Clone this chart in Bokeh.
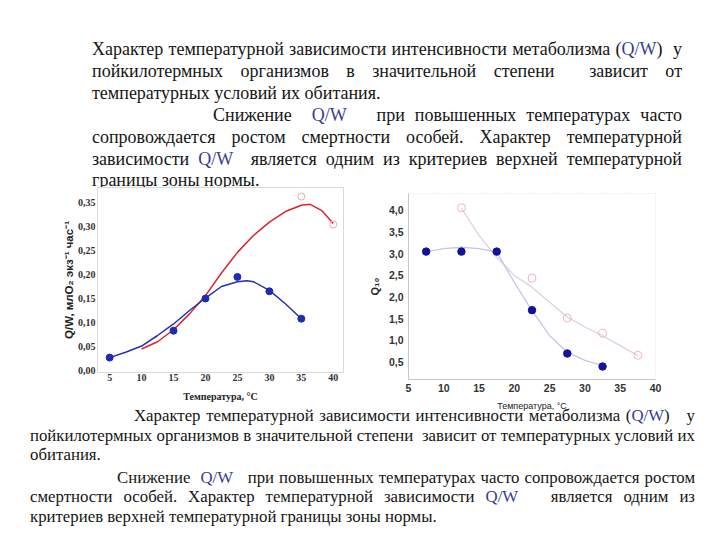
from bokeh.plotting import figure
from bokeh.models import Div, Range1d, FixedTicker, CustomJSTickFormatter, Spacer
from bokeh.layouts import column, row
from bokeh.embed import file_html
from bokeh.resources import INLINE

# ---------------- data ----------------
x_ticks = [5, 10, 15, 20, 25, 30, 35, 40]
x_tick_labels = ["5", "10", "15", "20", "25", "30", "35", "40"]

left_y_ticks = [0.0, 0.05, 0.10, 0.15, 0.20, 0.25, 0.30, 0.35]
left_y_tick_labels = ["0,00", "0,05", "0,10", "0,15", "0,20", "0,25", "0,30", "0,35"]

right_y_ticks = [0.5, 1.0, 1.5, 2.0, 2.5, 3.0, 3.5, 4.0]
right_y_tick_labels = ["0,5", "1,0", "1,5", "2,0", "2,5", "3,0", "3,5", "4,0"]

# left chart: Q/W vs temperature
left_blue_t = [5, 15, 20, 25, 30, 35]
left_blue_qw = [0.027, 0.083, 0.150, 0.195, 0.165, 0.108]
left_blue_curve_t = [5, 7.5, 10, 12.5, 15, 17.5, 20, 22.5, 25, 26.5, 27.5, 30, 32.5, 35]
left_blue_curve_qw = [0.027, 0.038, 0.051, 0.073, 0.097, 0.125, 0.151, 0.175, 0.185, 0.187,
                      0.185, 0.167, 0.139, 0.108]
left_red_t = [35, 40]
left_red_qw = [0.362, 0.304]
left_red_curve_t = [10, 12.5, 15, 17.5, 20, 22.5, 25, 27.5, 30, 32.5, 35, 36.4, 38.2, 40]
left_red_curve_qw = [0.045, 0.060, 0.085, 0.118, 0.156, 0.203, 0.246, 0.281, 0.309, 0.331,
                     0.344, 0.346, 0.333, 0.306]

# right chart: Q10 vs temperature
right_blue_t = [7.5, 12.5, 17.5, 22.5, 27.5, 32.5]
right_blue_q10 = [3.05, 3.05, 3.05, 1.70, 0.70, 0.40]
right_blue_curve_t = [7.5, 10, 12.5, 15, 17.5, 20, 22.5, 25, 27.5, 30, 32.5]
right_blue_curve_q10 = [3.05, 3.12, 3.15, 3.12, 3.04, 2.34, 1.69, 1.11, 0.73, 0.54, 0.42]
right_pink_t = [12.5, 22.5, 27.5, 32.5, 37.5]
right_pink_q10 = [4.06, 2.44, 1.52, 1.17, 0.66]
right_pink_curve_t = [12.5, 15, 17.5, 20, 22.5, 25, 27.5, 30, 32.5, 35, 37.5]
right_pink_curve_q10 = [4.05, 3.42, 2.92, 2.50, 2.23, 1.88, 1.54, 1.31, 1.11, 0.88, 0.65]

QW = '<span style="color:#3b3b94">Q/W</span>'

top_lines = [
    ("justify", 0, "Характер температурной зависимости интенсивности метаболизма (" + QW + ") &nbsp;у", 0),
    ("justify", 0, "пойкилотермных организмов в значительной степени &nbsp;зависит от", 0),
    ("left", 0, "температурных условий их обитания.", 0),
    ("justify", 121, "Снижение &nbsp;" + QW + " &nbsp;&nbsp;при повышенных температурах часто", 0),
    ("justify", 0, "сопровождается ростом смертности особей. Характер температурной", 0),
    ("justify", 0, "зависимости " + QW + " &nbsp;является одним из критериев верхней температурной", 0),
    ("left", 0, "границы зоны нормы.", 0),
]

bottom_lines = [
    ("justify", 104, "Характер температурной зависимости интенсивности метаболизма (" + QW + ") &nbsp;&nbsp;у", 0),
    ("justify", 0, "пойкилотермных организмов в значительной степени &nbsp;зависит от температурных условий их", 0),
    ("left", 0, "обитания.", 0),
    ("justify", 87, "Снижение &nbsp;" + QW + " &nbsp;&nbsp;при повышенных температурах часто сопровождается ростом", 3),
    ("justify", 0, "смертности особей. Характер температурной зависимости " + QW + " &nbsp;&nbsp;является одним из", 0),
    ("left", 0, "критериев верхней температурной границы зоны нормы.", 0),
]


def line_html(align, indent, txt, extra_top=0):
    return (f'<div style="text-align:{align};text-align-last:{align};white-space:nowrap;'
            f'padding-left:{indent}px;margin-top:{extra_top}px;">{txt}</div>')


SERIF = "font-family:&quot;Liberation Serif&quot;,&quot;Times New Roman&quot;,serif;"

top_html = (f'<div style="{SERIF}font-size:18px;line-height:21.9px;box-sizing:border-box;'
            'color:#151515;padding:39px 22px 0 92px;width:704px;">'
            + "".join(line_html(a, i, t, e) for a, i, t, e in top_lines) + '</div>')

bottom_html = (f'<div style="{SERIF}font-size:16.8px;line-height:19.6px;box-sizing:border-box;'
               'color:#151515;padding:0 9px 0 30px;margin-top:-7px;width:704px;">'
               + "".join(line_html(a, i, t, e) for a, i, t, e in bottom_lines) + '</div>')

top_div = Div(text=top_html, width=704, height=174, margin=(0, 0, 0, 0),
              styles={"overflow": "visible"})
bottom_div = Div(text=bottom_html, width=704, height=106, margin=(0, 0, 0, 0),
                 styles={"overflow": "visible"})


def fmt(tvals, tlabs):
    return CustomJSTickFormatter(args=dict(tvals=tvals, tlabs=tlabs), code="""
        for (let i = 0; i < tvals.length; i++) {
            if (Math.abs(tvals[i] - tick) < 1e-9) return tlabs[i];
        }
        return '';
    """)


# ---------------- left figure ----------------
pl = figure(frame_width=246, frame_height=185, min_border_left=97, min_border_right=7,
            min_border_top=13, min_border_bottom=36,
            x_range=Range1d(3.1, 41.6), y_range=Range1d(-0.004, 0.381),
            output_backend="svg", toolbar_location=None, margin=(0, 0, 0, 0))
pl.border_fill_color = None
pl.outline_line_color = "#d9d9d9"
pl.grid.visible = False

pl.line(left_red_curve_t, left_red_curve_qw, line_color="#dc2430", line_width=1.5)
pl.line(left_blue_curve_t, left_blue_curve_qw, line_color="#2232b0", line_width=1.5)
pl.scatter(left_red_t, left_red_qw, marker="circle", size=7, fill_color=None,
           line_color="#f2a6a6", line_width=1)
pl.scatter(left_blue_t, left_blue_qw, marker="circle", size=7, fill_color="#1c2cb4",
           line_color="#1c2cb4")

for ax in (pl.xaxis[0], pl.yaxis[0]):
    ax.axis_line_color = None
    ax.major_tick_line_color = None
    ax.minor_tick_line_color = None
    ax.major_tick_out = 0
    ax.major_tick_in = 0
    ax.major_label_text_font = "Liberation Serif"
    ax.major_label_text_font_style = "bold"
    ax.major_label_text_font_size = "10px"
    ax.major_label_text_color = "#333333"
    ax.axis_label_text_color = "#222222"
    ax.axis_label_text_font_style = "bold"

pl.xaxis.ticker = FixedTicker(ticks=x_ticks)
pl.xaxis.formatter = fmt(x_ticks, x_tick_labels)
pl.xaxis.major_label_standoff = 1
pl.xaxis.axis_label = "Температура, °С"
pl.xaxis.axis_label_text_font = "Liberation Serif"
pl.xaxis.axis_label_text_font_size = "10px"
pl.xaxis.axis_label_standoff = 7

pl.yaxis.ticker = FixedTicker(ticks=left_y_ticks)
pl.yaxis.formatter = fmt(left_y_ticks, left_y_tick_labels)
pl.yaxis.major_label_standoff = 2
pl.yaxis.axis_label = "Q/W, млO₂ экз⁻¹ час⁻¹"
pl.yaxis.axis_label_text_font = "Liberation Sans"
pl.yaxis.axis_label_text_font_size = "11.5px"
pl.yaxis.axis_label_standoff = 0

# ---------------- right figure ----------------
pr = figure(frame_width=247, frame_height=186, min_border_left=58, min_border_right=20,
            min_border_top=13, min_border_bottom=33,
            x_range=Range1d(5, 40), y_range=Range1d(0.1, 4.39),
            output_backend="svg", toolbar_location=None, margin=(0, 0, 0, 0))
pr.border_fill_color = None
pr.outline_line_color = "#e2e2e2"
pr.outline_line_dash = "1 2"
pr.grid.visible = False

pr.line(right_pink_curve_t, right_pink_curve_q10, line_color="#decfe6", line_width=1.3)
pr.line(right_blue_curve_t, right_blue_curve_q10, line_color="#cbc4e6", line_width=1.3)
pr.scatter(right_pink_t, right_pink_q10, marker="circle", size=8, fill_color=None,
           line_color="#f3b4bb", line_width=1)
pr.scatter(right_blue_t, right_blue_q10, marker="circle", size=7.5, fill_color="#12139a",
           line_color="#12139a")

for ax in (pr.xaxis[0], pr.yaxis[0]):
    ax.axis_line_color = "#c8c8c8"
    ax.major_tick_line_color = None
    ax.minor_tick_line_color = None
    ax.major_tick_out = 0
    ax.major_tick_in = 0
    ax.major_label_text_font = "Liberation Sans"
    ax.major_label_text_font_style = "bold"
    ax.major_label_text_font_size = "10.5px"
    ax.major_label_text_color = "#333333"
    ax.axis_label_text_color = "#222222"
    ax.axis_label_text_font = "Liberation Sans"

pr.xaxis.ticker = FixedTicker(ticks=x_ticks)
pr.xaxis.formatter = fmt(x_ticks, x_tick_labels)
pr.xaxis.major_label_standoff = 4
pr.xaxis.axis_label = "Температура, °С"
pr.xaxis.axis_label_text_font_style = "normal"
pr.xaxis.axis_label_text_font_size = "9px"
pr.xaxis.axis_label_standoff = 6

pr.yaxis.ticker = FixedTicker(ticks=right_y_ticks)
pr.yaxis.formatter = fmt(right_y_ticks, right_y_tick_labels)
pr.yaxis.major_label_standoff = 5
pr.yaxis.axis_label = "Q₁₀"
pr.yaxis.axis_label_text_font_style = "bold"
pr.yaxis.axis_label_text_font_size = "11px"
pr.yaxis.axis_label_standoff = 5

right_col = column(Spacer(width=345, height=6, margin=(0, 0, 0, 0)), pr, spacing=0)
layout = column(top_div, row(pl, right_col, spacing=0), bottom_div, spacing=0)

open("out.html", "w").write(file_html(layout, INLINE))
